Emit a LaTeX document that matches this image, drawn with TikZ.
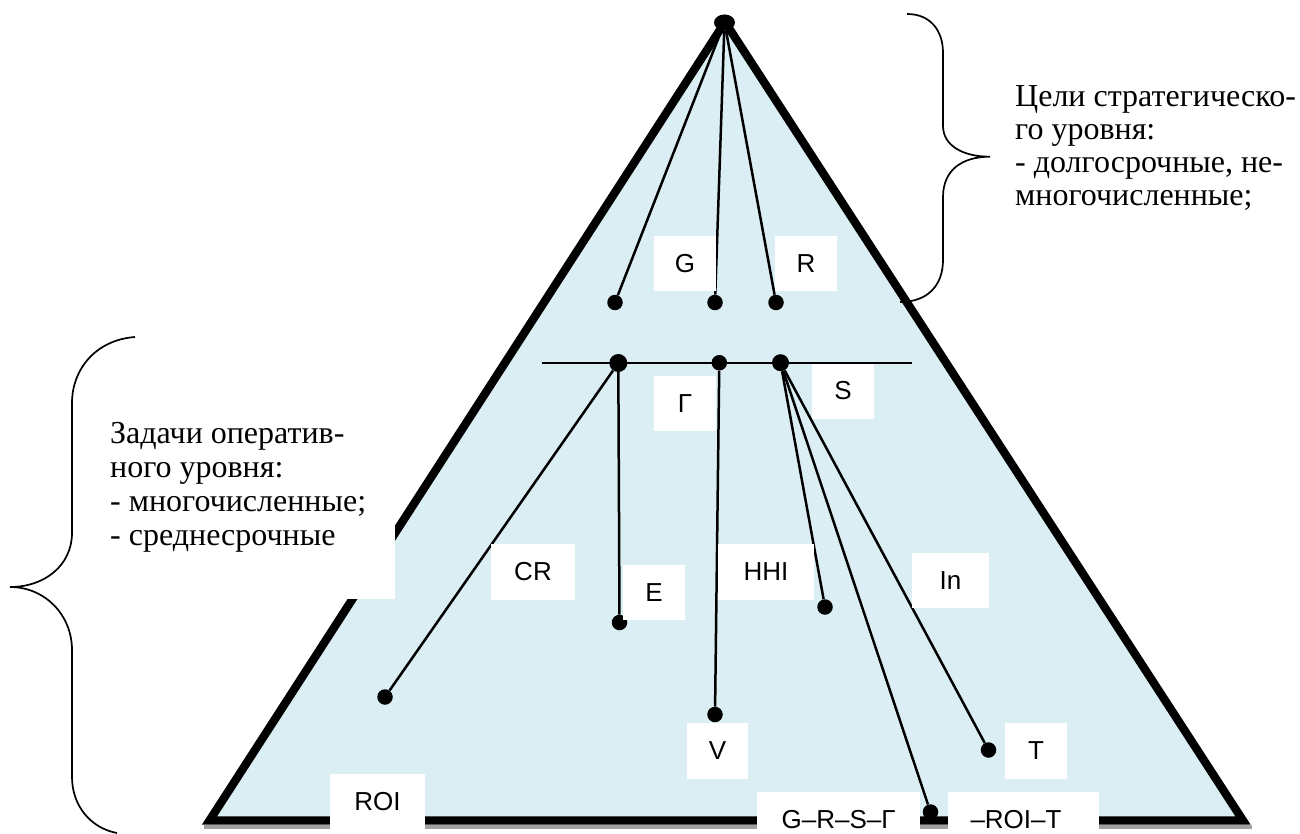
\documentclass[tikz,border=0pt]{standalone}
\usepackage{fontspec}
\setmainfont{Liberation Serif}
\newfontfamily\lsans{Liberation Sans}
\usetikzlibrary{shapes.geometric}
\definecolor{pyr}{RGB}{218,238,243}
\definecolor{shadowgray}{RGB}{160,160,160}
\begin{document}
\begin{tikzpicture}[x=1pt,y=-1pt,
  dot/.style={circle,fill=black,inner sep=0pt,minimum size=15.5pt},
  lbl/.style={fill=white,inner sep=0pt,font=\lsans\fontsize{26}{29}\selectfont},
  conn/.style={line width=2.5pt},
  bracepath/.style={line width=1.7pt},
  ser/.style={anchor=base west,inner sep=0pt,font=\fontsize{32}{34}\selectfont}]
\useasboundingbox (0,0) rectangle (1300,834);

% shadow and pyramid
\draw[shadowgray,line width=4pt] (204,826.5) -- (1252,826.5);
\draw[fill=pyr,line width=8.3pt,line join=miter] (725,22) -- (1243,820.5) -- (209.5,820.5) -- cycle;

% white background of the left text
\fill[white] (98,400) rectangle (395,599);

% dots
\node[ellipse,fill=black,minimum width=21pt,minimum height=16pt,inner sep=0pt] (apex) at (724.5,22.5) {};
\node[dot] (t1) at (615,302.5) {};
\node[dot] (t2) at (715,302.5) {};
\node[dot] (t3) at (776,302.5) {};
\coordinate (hL) at (541.5,363);
\coordinate (hR) at (912,363);
\node[dot,minimum size=18pt] (h1) at (618.3,363) {};
\node[dot] (h2) at (719.3,362.7) {};
\node[dot,minimum size=17pt] (h3) at (780.5,362.7) {};
\node[dot] (cr) at (385,697) {};
\node[dot] (e) at (619.5,622.5) {};
\node[dot] (hhi) at (825,607) {};
\node[dot] (v) at (715,714.5) {};
\node[dot] (tt) at (988.5,750) {};
\node[dot] (bot) at (930.5,812) {};

% connectors
\draw[conn] (apex) -- (t1);
\draw[conn] (apex) -- (t2);
\draw[conn] (apex) -- (t3);
\draw[line width=2pt] (hL) -- (hR);
\draw[conn] (h1) -- (cr);
\draw[conn] (h1) -- (e);
\draw[conn] (h2) -- (v);
\draw[conn] (h3) -- (hhi);
\draw[conn] (h3) -- (bot);
\draw[conn] (h3) -- (tt);

% labels
\node[lbl,minimum width=62pt,minimum height=55pt] (lG) at (685,263.5) {G};
\node[lbl,minimum width=62pt,minimum height=55pt] (lR) at (806,263.5) {R};
\node[lbl,minimum width=62pt,minimum height=55pt] (lGam) at (685,403.5) {Г};
\node[lbl,minimum width=62pt,minimum height=55pt] (lS) at (843,391) {S};
\node[lbl,minimum width=84pt,minimum height=56pt] (lCR) at (533,572) {CR};
\node[lbl,minimum width=62pt,minimum height=55pt] (lE) at (654,592.5) {E};
\node[lbl,minimum width=96pt,minimum height=56pt] (lHHI) at (766,572) {HHI};
\node[lbl,minimum width=77pt,minimum height=55pt] (lIn) at (950.5,580.5) {In};
\node[lbl,minimum width=61pt,minimum height=56pt] (lV) at (717.5,751) {V};
\node[lbl,minimum width=62pt,minimum height=56pt] (lT) at (1036,751) {T};
\node[lbl,minimum width=95pt,minimum height=56pt] (lROI) at (377.5,802) {ROI};
\node[lbl,minimum width=163pt,minimum height=56pt] (lGRSG) at (838.5,820) {G–R–S–Г};
\node[lbl,minimum width=151pt,minimum height=56pt] (lROIT) at (1023.5,820) {\makebox[0pt]{\hspace*{-15pt}–ROI–T}};

% braces
\draw[bracepath] (907,14) .. controls (930,14) and (943,30) .. (943,53)
  -- (943,126) .. controls (943,145) and (962,156.7) .. (990,156.7)
  .. controls (962,156.7) and (943,170) .. (943,197)
  -- (943,260) .. controls (943,285) and (928,302) .. (900,302);
\draw[bracepath] (135,337) .. controls (95,340) and (72,370) .. (72,403)
  -- (72,533) .. controls (72,565) and (45,587) .. (10,587)
  .. controls (45,587) and (72,615) .. (72,650)
  -- (72,777) .. controls (72,805) and (90,828) .. (117,833);

% texts
\node[ser] (r1) at (1015,107) {Цели стратегическо-};
\node[ser] (r2) at (1015,140) {го уровня:};
\node[ser] (r3) at (1015,173) {- долгосрочные, не-};
\node[ser] (r4) at (1015,206) {многочисленные;};
\node[ser] (l1) at (110,443) {Задачи оператив-};
\node[ser] (l2) at (110,477) {ного уровня:};
\node[ser] (l3) at (110,511) {- многочисленные;};
\node[ser] (l4) at (110,545) {- среднесрочные};
\end{tikzpicture}
\end{document}
